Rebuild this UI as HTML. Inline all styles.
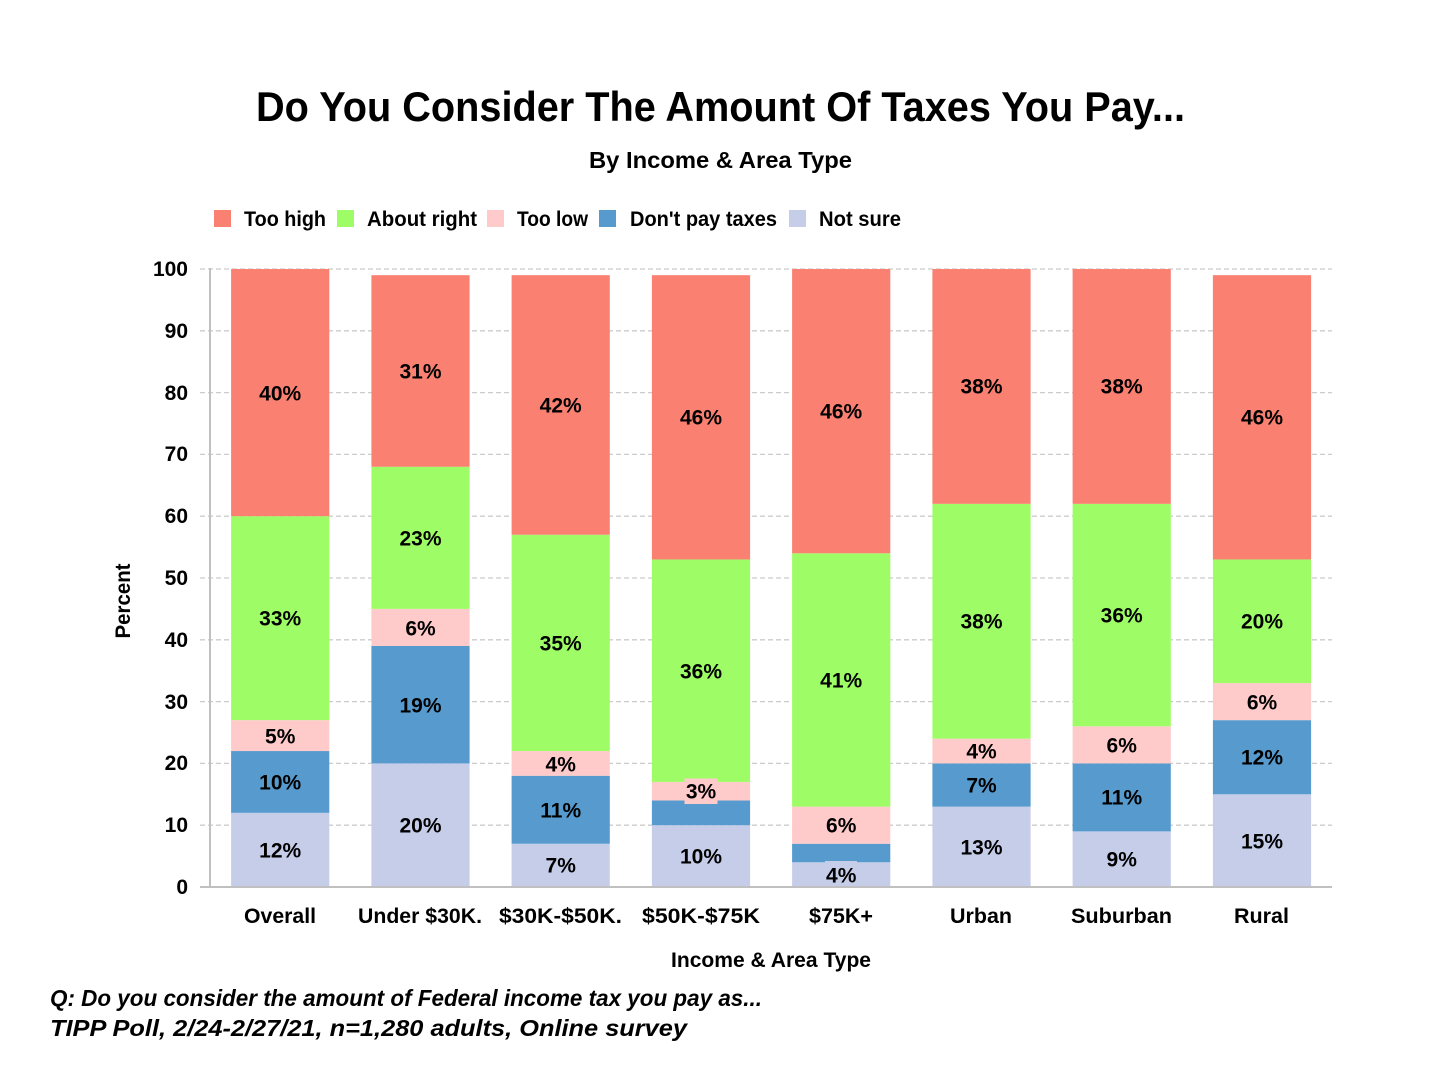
<!DOCTYPE html>
<html><head><meta charset="utf-8"><style>
html,body{margin:0;padding:0;background:#fff;}
svg{display:block;}
text{font-family:"Liberation Sans",sans-serif;fill:#000;}
</style></head><body>
<svg width="1440" height="1080" viewBox="0 0 1440 1080" xmlns="http://www.w3.org/2000/svg">
<rect width="1440" height="1080" fill="#fff"/>
<text x="256" y="121" font-size="42" font-weight="bold" textLength="929" lengthAdjust="spacingAndGlyphs">Do You Consider The Amount Of Taxes You Pay...</text>
<text x="589" y="168" font-size="23" font-weight="bold" textLength="263" lengthAdjust="spacingAndGlyphs">By Income &amp; Area Type</text>
<!-- legend -->
<g font-size="21" font-weight="bold">
<rect x="214" y="210" width="17" height="17" fill="#FA8072"/><text x="244" y="226" textLength="82" lengthAdjust="spacingAndGlyphs">Too high</text>
<rect x="337" y="210" width="17" height="17" fill="#9EFD66"/><text x="367" y="226" textLength="110" lengthAdjust="spacingAndGlyphs">About right</text>
<rect x="487" y="210" width="17" height="17" fill="#FFCACA"/><text x="517" y="226" textLength="71" lengthAdjust="spacingAndGlyphs">Too low</text>
<rect x="599" y="210" width="17" height="17" fill="#579BCE"/><text x="630" y="226" textLength="147" lengthAdjust="spacingAndGlyphs">Don't pay taxes</text>
<rect x="789" y="210" width="17" height="17" fill="#C6CDE9"/><text x="819" y="226" textLength="82" lengthAdjust="spacingAndGlyphs">Not sure</text>
</g>
<!-- grid -->
<g stroke="#cccccc" stroke-width="1.3" stroke-dasharray="5,3">
<line x1="200" y1="269" x2="1332" y2="269"/>
<line x1="200" y1="330.8" x2="1332" y2="330.8"/>
<line x1="200" y1="392.6" x2="1332" y2="392.6"/>
<line x1="200" y1="454.4" x2="1332" y2="454.4"/>
<line x1="200" y1="516.2" x2="1332" y2="516.2"/>
<line x1="200" y1="578" x2="1332" y2="578"/>
<line x1="200" y1="639.8" x2="1332" y2="639.8"/>
<line x1="200" y1="701.6" x2="1332" y2="701.6"/>
<line x1="200" y1="763.4" x2="1332" y2="763.4"/>
<line x1="200" y1="825.2" x2="1332" y2="825.2"/>
</g>
<!-- y ticks -->
<g font-size="21" font-weight="bold" text-anchor="end">
<text x="188" y="276">100</text>
<text x="188" y="338">90</text>
<text x="188" y="400">80</text>
<text x="188" y="461">70</text>
<text x="188" y="523">60</text>
<text x="188" y="585">50</text>
<text x="188" y="647">40</text>
<text x="188" y="709">30</text>
<text x="188" y="770">20</text>
<text x="188" y="832">10</text>
<text x="188" y="894">0</text>
</g>
<!-- bars -->
<g>
<rect x="231.1" y="812.84" width="98.2" height="74.16" fill="#C6CDE9"/>
<rect x="231.1" y="751.04" width="98.2" height="61.8" fill="#579BCE"/>
<rect x="231.1" y="720.14" width="98.2" height="30.9" fill="#FFCACA"/>
<rect x="231.1" y="516.2" width="98.2" height="203.94" fill="#9EFD66"/>
<rect x="231.1" y="269" width="98.2" height="247.2" fill="#FA8072"/>

<rect x="371.4" y="763.4" width="98.2" height="123.6" fill="#C6CDE9"/>
<rect x="371.4" y="645.98" width="98.2" height="117.42" fill="#579BCE"/>
<rect x="371.4" y="608.9" width="98.2" height="37.08" fill="#FFCACA"/>
<rect x="371.4" y="466.76" width="98.2" height="142.14" fill="#9EFD66"/>
<rect x="371.4" y="275.18" width="98.2" height="191.58" fill="#FA8072"/>

<rect x="511.6" y="843.74" width="98.2" height="43.26" fill="#C6CDE9"/>
<rect x="511.6" y="775.76" width="98.2" height="67.98" fill="#579BCE"/>
<rect x="511.6" y="751.04" width="98.2" height="24.72" fill="#FFCACA"/>
<rect x="511.6" y="534.74" width="98.2" height="216.3" fill="#9EFD66"/>
<rect x="511.6" y="275.18" width="98.2" height="259.56" fill="#FA8072"/>

<rect x="651.9" y="825.2" width="98.2" height="61.8" fill="#C6CDE9"/>
<rect x="651.9" y="800.48" width="98.2" height="24.72" fill="#579BCE"/>
<rect x="651.9" y="781.94" width="98.2" height="18.54" fill="#FFCACA"/>
<rect x="651.9" y="559.46" width="98.2" height="222.48" fill="#9EFD66"/>
<rect x="651.9" y="275.18" width="98.2" height="284.28" fill="#FA8072"/>
<rect x="684.5" y="778.5" width="33" height="25.5" fill="#FFCACA"/>

<rect x="792.1" y="862.28" width="98.2" height="24.72" fill="#C6CDE9"/>
<rect x="792.1" y="843.74" width="98.2" height="18.54" fill="#579BCE"/>
<rect x="792.1" y="806.66" width="98.2" height="37.08" fill="#FFCACA"/>
<rect x="792.1" y="553.28" width="98.2" height="253.38" fill="#9EFD66"/>
<rect x="792.1" y="269" width="98.2" height="284.28" fill="#FA8072"/>
<rect x="825" y="861" width="32" height="26" fill="#C6CDE9"/>

<rect x="932.4" y="806.66" width="98.2" height="80.34" fill="#C6CDE9"/>
<rect x="932.4" y="763.4" width="98.2" height="43.26" fill="#579BCE"/>
<rect x="932.4" y="738.68" width="98.2" height="24.72" fill="#FFCACA"/>
<rect x="932.4" y="503.84" width="98.2" height="234.84" fill="#9EFD66"/>
<rect x="932.4" y="269" width="98.2" height="234.84" fill="#FA8072"/>

<rect x="1072.6" y="831.38" width="98.2" height="55.62" fill="#C6CDE9"/>
<rect x="1072.6" y="763.4" width="98.2" height="67.98" fill="#579BCE"/>
<rect x="1072.6" y="726.32" width="98.2" height="37.08" fill="#FFCACA"/>
<rect x="1072.6" y="503.84" width="98.2" height="222.48" fill="#9EFD66"/>
<rect x="1072.6" y="269" width="98.2" height="234.84" fill="#FA8072"/>

<rect x="1212.9" y="794.3" width="98.2" height="92.7" fill="#C6CDE9"/>
<rect x="1212.9" y="720.14" width="98.2" height="74.16" fill="#579BCE"/>
<rect x="1212.9" y="683.06" width="98.2" height="37.08" fill="#FFCACA"/>
<rect x="1212.9" y="559.46" width="98.2" height="123.6" fill="#9EFD66"/>
<rect x="1212.9" y="275.18" width="98.2" height="284.28" fill="#FA8072"/>
</g>
<!-- axes -->
<line x1="210" y1="268" x2="210" y2="888" stroke="#c0c0c0" stroke-width="2"/>
<line x1="200" y1="887" x2="1332" y2="887" stroke="#c0c0c0" stroke-width="2"/>
<!-- data labels -->
<g font-size="21" font-weight="bold" text-anchor="middle">
<text x="280.2" y="857.5">12%</text>
<text x="280.2" y="789.5">10%</text>
<text x="280.2" y="743.5">5%</text>
<text x="280.2" y="625.5">33%</text>
<text x="280.2" y="400.5">40%</text>

<text x="420.5" y="832.5">20%</text>
<text x="420.5" y="712.5">19%</text>
<text x="420.5" y="635.5">6%</text>
<text x="420.5" y="545.5">23%</text>
<text x="420.5" y="378.5">31%</text>

<text x="560.7" y="872.5">7%</text>
<text x="560.7" y="817.5">11%</text>
<text x="560.7" y="771.5">4%</text>
<text x="560.7" y="650.5">35%</text>
<text x="560.7" y="412.5">42%</text>

<text x="701" y="863.5">10%</text>
<text x="701" y="798.5">3%</text>
<text x="701" y="678.5">36%</text>
<text x="701" y="424.5">46%</text>

<text x="841.2" y="882.5">4%</text>
<text x="841.2" y="832.5">6%</text>
<text x="841.2" y="687.5">41%</text>
<text x="841.2" y="418.5">46%</text>

<text x="981.5" y="854.5">13%</text>
<text x="981.5" y="792.5">7%</text>
<text x="981.5" y="758.5">4%</text>
<text x="981.5" y="628.5">38%</text>
<text x="981.5" y="393.5">38%</text>

<text x="1121.7" y="866.5">9%</text>
<text x="1121.7" y="804.5">11%</text>
<text x="1121.7" y="752.5">6%</text>
<text x="1121.7" y="622.5">36%</text>
<text x="1121.7" y="393.5">38%</text>

<text x="1262" y="848.5">15%</text>
<text x="1262" y="764.5">12%</text>
<text x="1262" y="709.5">6%</text>
<text x="1262" y="628.5">20%</text>
<text x="1262" y="424.5">46%</text>
</g>
<!-- x labels -->
<g font-size="21" font-weight="bold">
<text x="244" y="923" textLength="72" lengthAdjust="spacingAndGlyphs">Overall</text>
<text x="358" y="923" textLength="124" lengthAdjust="spacingAndGlyphs">Under $30K.</text>
<text x="499" y="923" textLength="123" lengthAdjust="spacingAndGlyphs">$30K-$50K.</text>
<text x="642" y="923" textLength="118" lengthAdjust="spacingAndGlyphs">$50K-$75K</text>
<text x="809" y="923" textLength="64" lengthAdjust="spacingAndGlyphs">$75K+</text>
<text x="950" y="923" textLength="62" lengthAdjust="spacingAndGlyphs">Urban</text>
<text x="1071" y="923" textLength="101" lengthAdjust="spacingAndGlyphs">Suburban</text>
<text x="1234" y="923" textLength="55" lengthAdjust="spacingAndGlyphs">Rural</text>
</g>
<text x="671" y="967" font-size="21" font-weight="bold" textLength="200" lengthAdjust="spacingAndGlyphs">Income &amp; Area Type</text>
<text transform="translate(130,601) rotate(-90)" font-size="21" font-weight="bold" text-anchor="middle" textLength="75" lengthAdjust="spacingAndGlyphs">Percent</text>
<!-- footer -->
<g font-size="23" font-weight="bold" font-style="italic">
<text x="50" y="1006" textLength="712" lengthAdjust="spacingAndGlyphs">Q:  Do you consider the amount of Federal income tax you pay as...</text>
<text x="50" y="1036" textLength="637" lengthAdjust="spacingAndGlyphs">TIPP Poll, 2/24-2/27/21, n=1,280 adults, Online survey</text>
</g>
</svg>
</body></html>
